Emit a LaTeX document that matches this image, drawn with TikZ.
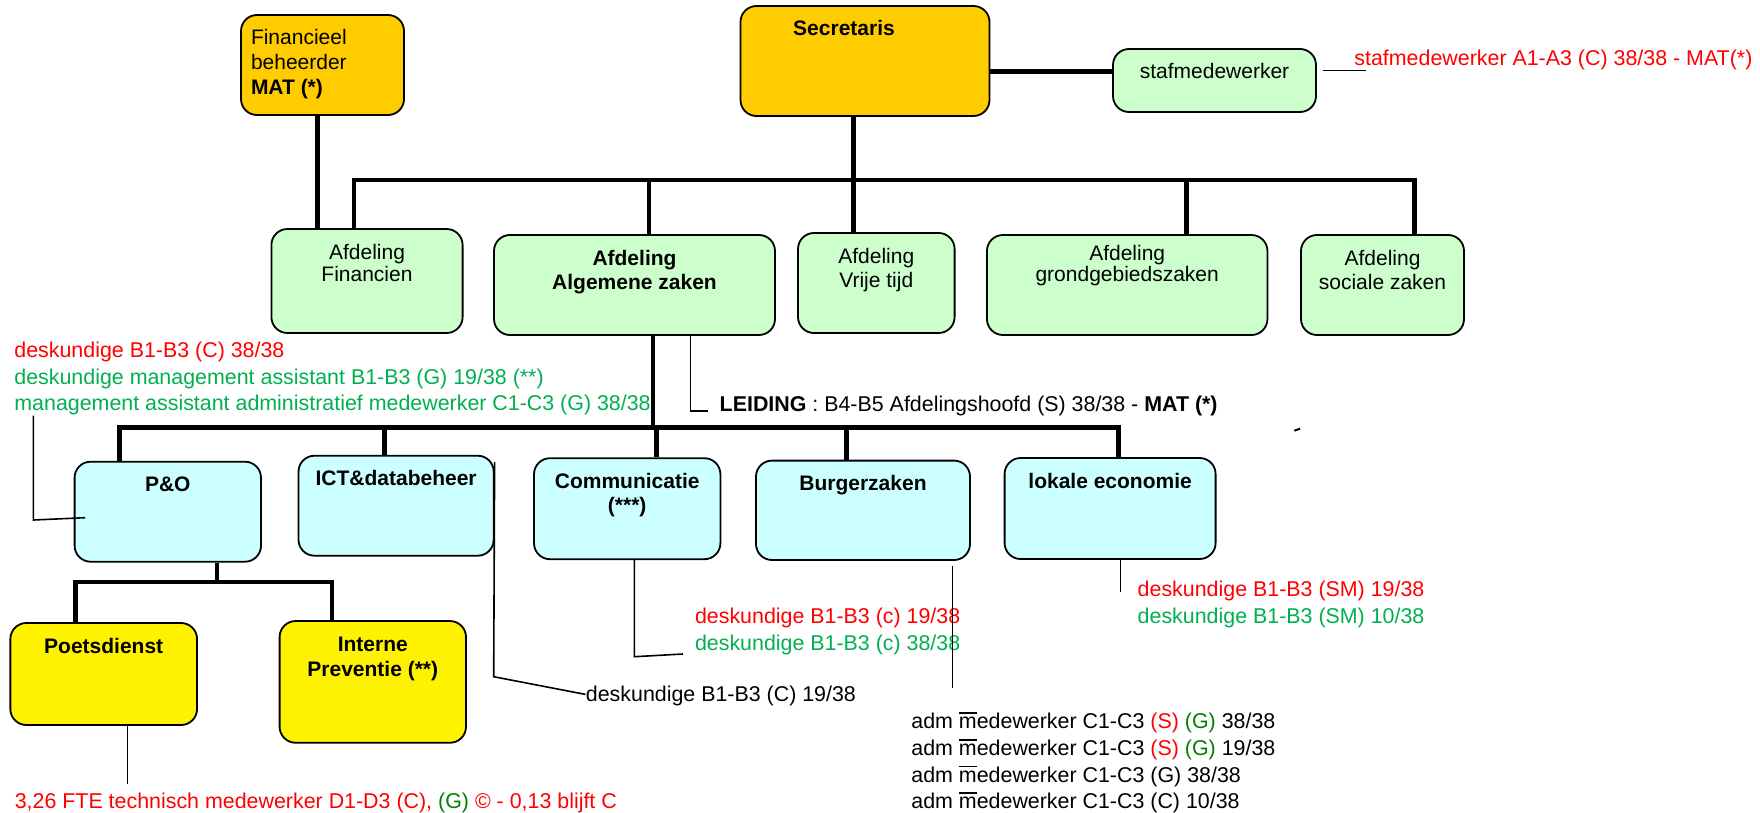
\documentclass[tikz,border=0pt]{standalone}
\usepackage{fontspec}
\setmainfont{Liberation Sans}
\usepackage{xcolor}
\usepackage{tikz}

\definecolor{gold}{HTML}{FFCC00}
\definecolor{palegreen}{HTML}{CCFFCC}
\definecolor{palecyan}{HTML}{CCFFFF}
\definecolor{notered}{HTML}{FF0000}
\definecolor{notegreen}{HTML}{00B050}
\definecolor{darkgreen}{HTML}{008000}

\newcommand{\boxtext}[4][\centering]{\parbox[c][#3][t]{#2}{#1\rule{0pt}{15pt}#4}}
\newcommand{\mstreep}{\makebox[0pt][l]{\rule[0.7em]{0.83em}{0.07em}}m}

\begin{document}
\begin{tikzpicture}[x=0.5pt, y=-0.5pt, font=\fontsize{10.5}{12}\selectfont,
    orgbox/.style={draw=black, line width=0.9pt, rounded corners=8pt, inner sep=0pt},
    goldbox/.style={orgbox, fill=gold},
    greenbox/.style={orgbox, fill=palegreen},
    cyanbox/.style={orgbox, fill=palecyan},
    yellowbox/.style={orgbox, fill=yellow},
    bus/.style={line width=2.2pt},
    thinline/.style={line width=0.8pt},
    note/.style={inner sep=0pt, align=left, font=\fontsize{10.7}{13.3}\selectfont}]
\useasboundingbox (0,0) rectangle (1760,813);

\node[goldbox] (fin) at (322.5,65) {\boxtext[\raggedright\leftskip=5pt\baselineskip=12.5pt]{81.5pt}{50pt}{Financieel\\beheerder\\\textbf{MAT (*)}}};
\node[goldbox] (sec) at (865,61) {\boxtext{124.5pt}{55pt}{\textbf{Secretaris}\rule{21pt}{0pt}}};
\node[greenbox] (staf) at (1214.5,80.5) {\boxtext{101.5pt}{31.5pt}{stafmedewerker}};

\node[greenbox] (afin) at (367,281) {\boxtext[\centering\baselineskip=11pt]{95.6pt}{52pt}{Afdeling\\Financien}};
\node[greenbox] (alg) at (634.5,285) {\boxtext{140.5pt}{50pt}{\textbf{Afdeling\\Algemene zaken}}};
\node[greenbox] (vrij) at (876.3,283) {\boxtext{78.3pt}{50pt}{Afdeling\\Vrije tijd}};
\node[greenbox] (grond) at (1127.2,285) {\boxtext[\centering\vspace*{-2.5pt}\baselineskip=9.5pt]{140.25pt}{50pt}{Afdeling\\grondgebiedszaken}};
\node[greenbox] (soc) at (1382.5,285) {\boxtext{81.5pt}{50pt}{Afdeling\\sociale zaken}};

\node[cyanbox] (pao) at (167.8,511.7) {\boxtext{93.2pt}{50pt}{\textbf{P\&O}}};
\node[cyanbox] (ict) at (396.1,505.7) {\boxtext{97.6pt}{50pt}{\textbf{ICT\&databeheer}}};
\node[cyanbox] (comm) at (627.2,508.7) {\boxtext{93.2pt}{50.5pt}{\textbf{Communicatie\\(***)}}};
\node[cyanbox] (burger) at (863,510.3) {\boxtext{107pt}{49.7pt}{\textbf{Burgerzaken}}};
\node[cyanbox] (lokale) at (1110.1,508.5) {\boxtext{105.5pt}{50.5pt}{\textbf{lokale economie}}};

\node[yellowbox] (poets) at (103.7,674) {\boxtext{93.35pt}{51pt}{\textbf{Poetsdienst}}};
\node[yellowbox] (interne) at (372.8,681.9) {\boxtext[\centering\baselineskip=12.5pt]{93.2pt}{60.85pt}{\textbf{Interne\\Preventie (**)}}};

\node[note, anchor=base west] (stafnote) at (1354,65.5) {\textcolor{notered}{stafmedewerker A1-A3 (C) 38/38 - MAT(*)}};
\node[note, anchor=north west] (note1) at (14,341.7) {\textcolor{notered}{deskundige B1-B3 (C) 38/38}\\
  \textcolor{notegreen}{deskundige management assistant B1-B3 (G) 19/38 (**)}\\
  \textcolor{notegreen}{management assistant administratief medewerker C1-C3 (G) 38/38}};
\node[note, anchor=base west] (leiding) at (719.3,411) {\textbf{LEIDING} : B4-B5 Afdelingshoofd (S) 38/38 - \textbf{MAT (*)}};
\node[note, anchor=base west] (ictnote) at (585.5,701) {deskundige B1-B3 (C) 19/38};
\node[note, anchor=north west] (commnote) at (694.6,608) {\textcolor{notered}{deskundige B1-B3 (c) 19/38}\\
  \textcolor{notegreen}{deskundige B1-B3 (c) 38/38}};
\node[note, anchor=north west] (econote) at (1137.3,580.7) {\textcolor{notered}{deskundige B1-B3 (SM) 19/38}\\
  \textcolor{notegreen}{deskundige B1-B3 (SM) 10/38}};
\node[note, anchor=north west] (admnote) at (911,712) {adm \mstreep edewerker C1-C3 \textcolor{notered}{(S)} \textcolor{darkgreen}{(G)} 38/38\\
  adm \mstreep edewerker C1-C3 \textcolor{notered}{(S)} \textcolor{darkgreen}{(G)} 19/38\\
  adm \mstreep edewerker C1-C3 (G) 38/38\\
  adm \mstreep edewerker C1-C3 (C) 10/38};
\node[note, anchor=base west] (ftenote) at (14.4,808.3) {\textcolor{notered}{3,26 FTE technisch medewerker D1-D3 (C),} \textcolor{darkgreen}{(G)} \textcolor{notered}{\textcopyright{} - 0,13 blijft C}};

\coordinate (finleg) at (317.5,180);
\coordinate (topbusL) at (354,180);
\coordinate (topbusR) at (1414.3,180);
\coordinate (dropalg) at (648.7,180);
\coordinate (dropvrij) at (853.6,180);
\coordinate (dropgrond) at (1186.4,180);
\coordinate (stafy) at (1050,71.7);
\coordinate (stafnoteleg) at (1366,70.7);

\draw[bus] (finleg |- fin.south) -- (finleg |- afin.north);
\draw[bus] (sec.east |- stafy) -- (staf.west |- stafy);
\draw[bus] (topbusL |- afin.north) -- (topbusL) -- (topbusR) -- (topbusR |- soc.north);
\draw[bus] (dropalg) -- (dropalg |- alg.north);
\draw[bus] (dropvrij |- sec.south) -- (dropvrij |- vrij.north);
\draw[bus] (dropgrond) -- (dropgrond |- grond.north);
\draw[thinline, shorten <=2.8pt] (staf.east |- stafnoteleg) -- (stafnoteleg);

\coordinate (algleg) at (653,427.3);
\coordinate (lowbusL) at (119.5,427.3);
\coordinate (lowbusR) at (1118.5,427.3);
\coordinate (dropict) at (384.6,427.3);
\coordinate (dropcomm) at (656.5,427.3);
\coordinate (dropburger) at (846.5,427.3);
\coordinate (leidingleg) at (690.6,411);

\draw[bus] (algleg |- alg.south) -- (algleg);
\draw[bus] (lowbusL |- pao.north) -- (lowbusL) -- (lowbusR) -- (lowbusR |- lokale.north);
\draw[bus] (dropict) -- (dropict |- ict.north);
\draw[bus] (dropcomm) -- (dropcomm |- comm.north);
\draw[bus] (dropburger) -- (dropburger |- burger.north);
\draw[thinline] (leidingleg |- alg.south) |- ([xshift=-5.75pt]leiding.base west);

\coordinate (paoleg) at (217,582);
\coordinate (subbusL) at (75.5,582);
\coordinate (subbusR) at (331.8,582);
\draw[bus] (paoleg |- pao.south) -- (paoleg);
\draw[bus] (subbusL |- poets.north) -- (subbusL) -- (subbusR) -- (subbusR |- interne.north);

\coordinate (note1leg) at (33.3,520);
\coordinate (ictknee) at (493.7,676.7);
\coordinate (commknee) at (634.3,656.7);
\coordinate (commend) at (683,654);
\coordinate (burgerleg) at (952.5,688);
\coordinate (lokaleleg) at (1120.5,591.7);
\coordinate (poetsleg) at (127.4,784.3);

\draw[thinline] (note1leg |- note1.south) -- (note1leg) -- ([xshift=5.7pt,yshift=-3pt]pao.west);
\draw[thinline] ([yshift=-3.65pt]ict.north east) -- (ictknee) -- ([yshift=3.3pt]ictnote.base west);
\draw[thinline] (commknee |- comm.south) -- (commknee) -- (commend);
\draw[thinline, shorten <=2.5pt] (burgerleg |- burger.south) -- (burgerleg);
\draw[thinline] (lokaleleg |- lokale.south) -- (lokaleleg);
\draw[thinline] (poetsleg |- poets.south) -- (poetsleg);
\draw[line width=1pt] (1294.3,430.7) -- (1300,428.7);
\end{tikzpicture}
\end{document}
